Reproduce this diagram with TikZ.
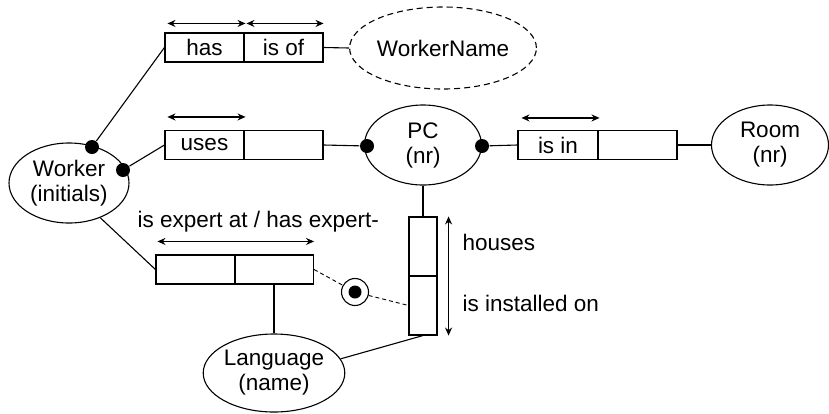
\documentclass[tikz,border=0pt]{standalone}
\usepackage{fontspec}
\setmainfont{Liberation Sans}
\usetikzlibrary{shapes.geometric,arrows.meta}
\begin{document}
\begin{tikzpicture}[x=1pt,y=-1pt,line width=1.1pt,
  every node/.style={font=\fontsize{22.5}{25}\selectfont,inner sep=0pt},
  entity/.style={ellipse,draw,align=center},
  rolebox/.style={rectangle,draw,minimum width=79pt,minimum height=29pt},
  vrole/.style={rectangle,draw,minimum width=28pt,minimum height=59pt},
  mdot/.style={circle,fill,minimum size=14pt},
  uc/.style={{Stealth[length=8pt,width=7pt]}-{Stealth[length=8pt,width=7pt]},line width=1.2pt},
  dsh/.style={dash pattern=on 4pt off 3pt}]
\useasboundingbox (0,0) rectangle (829,413);
% entities
\node[entity,minimum width=120pt,minimum height=80pt] (worker) at (69,183) {Worker\\(initials)};
\node[entity,dashed,dash pattern=on 6pt off 4pt,minimum width=160pt,minimum height=82pt] (wname) at (443,48) {WorkerName};
\node[entity,minimum width=117pt,minimum height=80pt] (pc) at (423,145) {PC\\(nr)};
\node[entity,minimum width=117pt,minimum height=80pt] (room) at (770,145) {Room\\(nr)};
\node[entity,minimum width=138pt,minimum height=78pt] (lang) at (274,373) {Language\\(name)};
% role boxes
\node[rolebox] (has) at (204.5,47.5) {has};
\node[rolebox] (isof) at (283.5,47.5) {is of};
\node[rolebox] (uses) at (204.5,145) {uses};
\node[rolebox] (uses2) at (283.5,145) {};
\node[rolebox,minimum width=80pt] (isin) at (558,145) {is in};
\node[rolebox,minimum width=79pt] (isin2) at (637.5,145) {};
\node[rolebox] (exp1) at (195.5,269.5) {};
\node[rolebox] (exp2) at (274,269.5) {};
\node[vrole] (vtop) at (423,246.5) {};
\node[vrole] (vbot) at (423,305.5) {};
% mandatory dots
\node[mdot] (d1) at (92,147) {};
\node[mdot] (d2) at (123,170) {};
\node[mdot] (d3) at (367,146) {};
\node[mdot] (d4) at (482,146) {};
% subset constraint
\node[circle,draw,minimum size=27pt] (sub) at (355,292) {};
\fill (sub.center) circle (6.5pt);
% connectors
\draw (d1) -- (has.west);
\draw (d2) -- (uses.west);
\draw (isof.east) -- (wname.west);
\draw (uses2.east) -- (d3);
\draw (d4) -- (isin.west);
\draw (isin2.east) -- (room.west);
\draw (pc.south) -- (vtop.north);
\draw (worker.-48) -- (exp1.west);
\draw (exp2.south) -- (lang.north);
\draw (lang.12) -- (vbot.south);
\draw[dsh,line width=0.9pt] (exp2.east) -- (sub);
\draw[dsh,line width=0.9pt] (sub) -- (vbot.west);
% uniqueness constraints
\draw[uc] ([xshift=3pt,yshift=9pt]has.north west) -- ([xshift=1pt,yshift=9pt]has.north east);
\draw[uc] ([xshift=3pt,yshift=9pt]isof.north west) -- ([yshift=9pt]isof.north east);
\draw[uc] ([xshift=3pt,yshift=13pt]uses.north west) -- ([xshift=1pt,yshift=13pt]uses.north east);
\draw[uc] ([xshift=4pt,yshift=12pt]isin.north west) -- ([xshift=1pt,yshift=12pt]isin.north east);
\draw[uc] ([xshift=2pt,yshift=13pt]exp1.north west) -- ([yshift=13pt]exp2.north east);
\draw[uc] ([xshift=11pt]vtop.north east) -- ([xshift=11pt]vbot.south east);
% reading labels
\node[anchor=west] (lexp) at (137,222) {is expert at / has expert-};
\node[anchor=west] (lhouses) at (462,242) {houses};
\node[anchor=west] (linst) at (462,303) {is installed on};
\end{tikzpicture}
\end{document}
